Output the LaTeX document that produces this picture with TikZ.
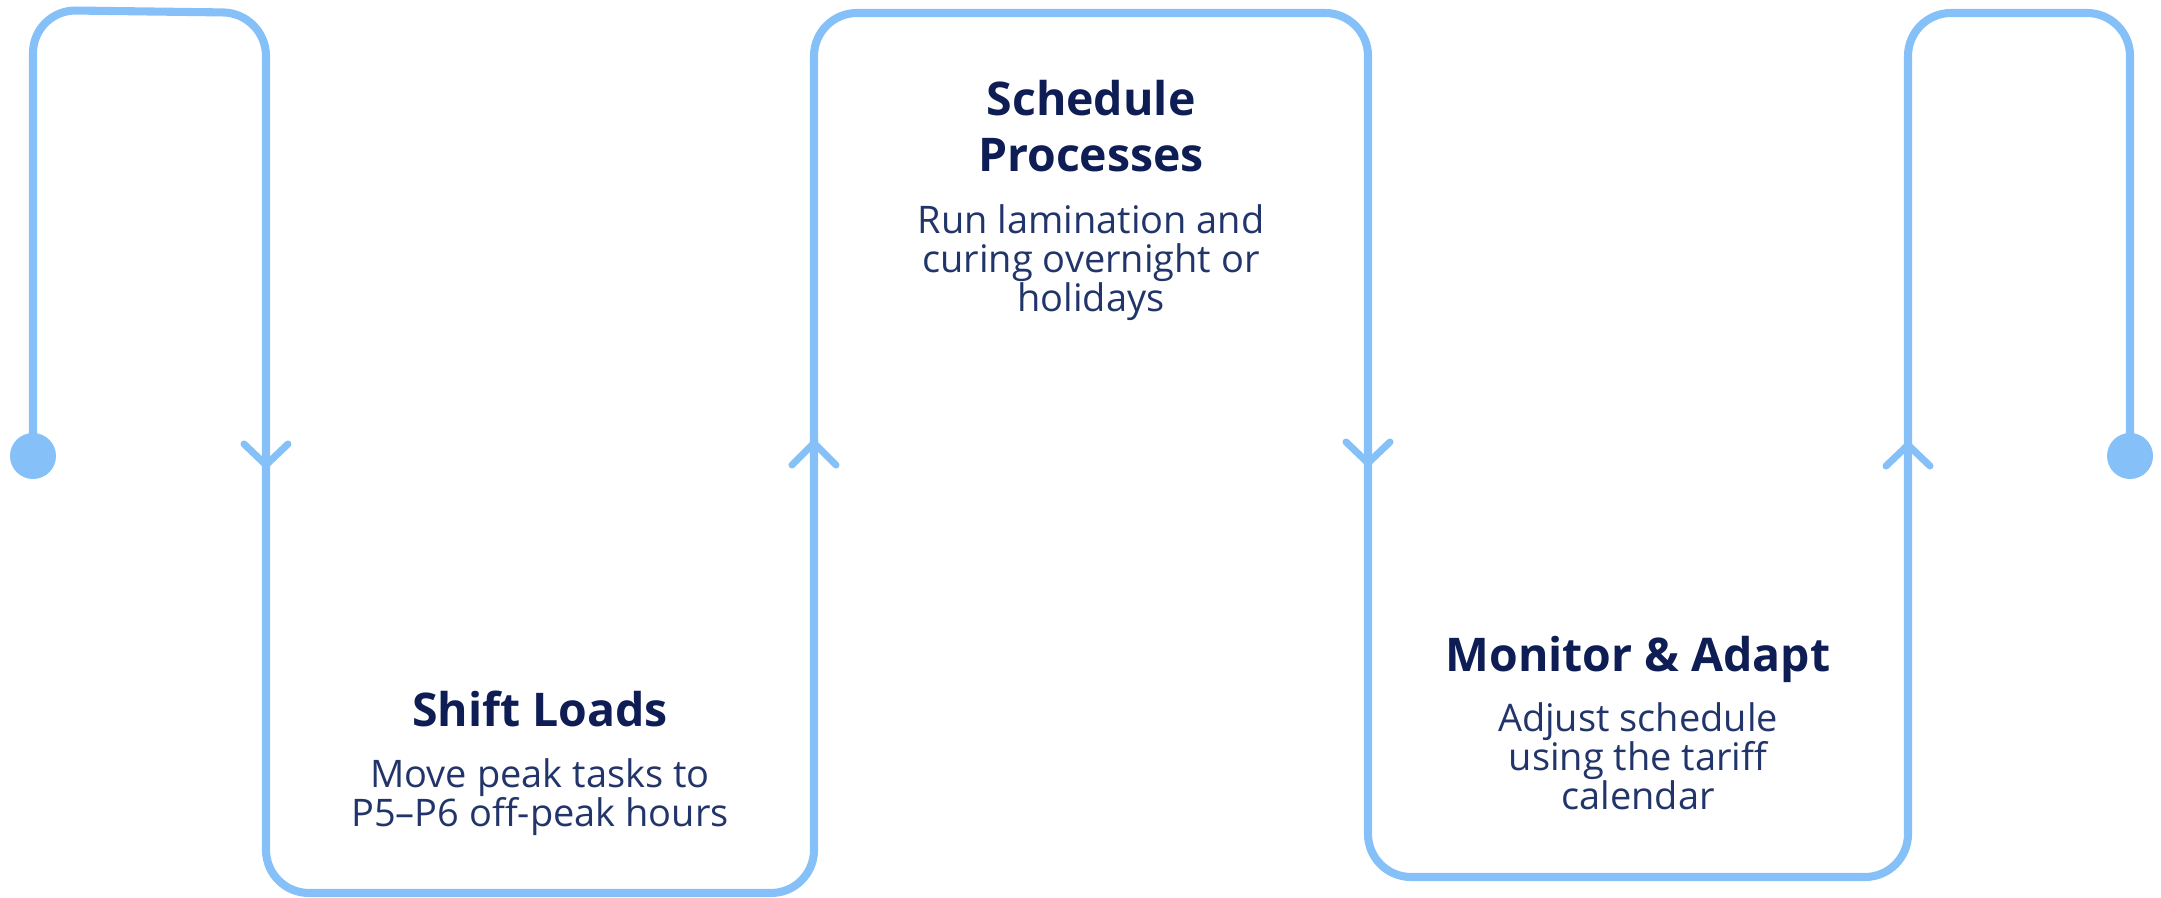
\documentclass[tikz,border=0pt]{standalone}
\usepackage{fontspec}
\setmainfont{Open Sans}
\usetikzlibrary{positioning}

\definecolor{flowblue}{HTML}{85C1F8}
\definecolor{navytitle}{HTML}{0E1E55}
\definecolor{navytext}{HTML}{22356A}

\tikzstyle{flow} = [draw=flowblue, line width=2.3pt, rounded corners=4.3mm]
\tikzstyle{chev} = [draw=flowblue, line width=2pt, line cap=round, line join=round]
\tikzstyle{enddot} = [circle, fill=flowblue, minimum size=4.6mm, inner sep=0pt]
\tikzstyle{title} = [anchor=base, align=center, text=navytitle, font=\fontsize{13.2}{16.2}\selectfont\bfseries]
\tikzstyle{desc} = [anchor=base, align=center, text=navytext, font=\fontsize{10.8}{11.1}\selectfont]

\begin{document}
\begin{tikzpicture}[x=0.01cm, y=-0.01cm]
    \useasboundingbox (0,0) rectangle (2161,898);

    % start and end of the line
    \node (start) [enddot] at (33,456) {};
    \node (end) [enddot] at (2130,456) {};

    % the winding line
    \draw [flow] (start.center) -- (33,10) -- (266,13) -- (266,893) -- (814,893)
        -- (814,13) -- (1368,13) -- (1368,877) -- (1908,877) -- (1908,13)
        -- (2130,13) -- (end.center);

    % direction marks
    \draw [chev] (244,444) -- (266,465) -- (288,444);
    \draw [chev] (792,465) -- (814,443) -- (836,465);
    \draw [chev] (1346,442) -- (1368,463) -- (1390,442);
    \draw [chev] (1886,466) -- (1908,445) -- (1930,466);

    % steps (base = last line)
    \node (shift) [title] at (540,727) {Shift Loads};
    \node (shiftText) [desc] at (540,827) {Move peak tasks to\\P5–P6 off-peak hours};
    \node (sched) [title] at (1091,172) {Schedule\\Processes};
    \node (schedText) [desc] at (1091,312) {Run lamination and\\curing overnight or\\holidays};
    \node (monitor) [title] at (1638,672) {Monitor \& Adapt};
    \node (monitorText) [desc] at (1638,810) {Adjust schedule\\using the tariff\\calendar};
\end{tikzpicture}
\end{document}
